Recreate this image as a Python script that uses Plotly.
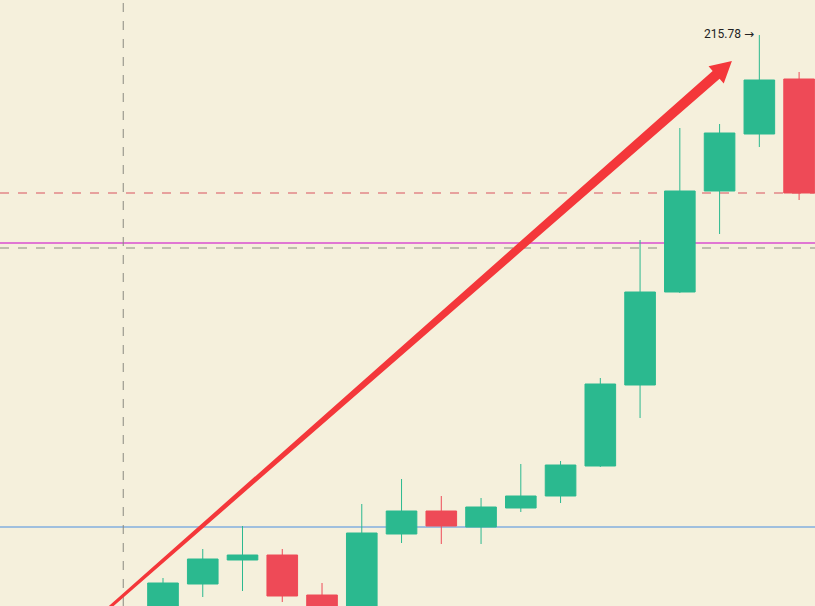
import math
import plotly.graph_objects as go

# ---- data ----
idx = list(range(17))
opens  = [158.08, 160.88, 163.28, 163.78, 159.78, 157.98, 165.88, 168.18, 166.58, 168.48,
          169.68, 172.68, 180.78, 190.08, 200.18, 205.88, 211.38]
highs  = [161.48, 164.38, 166.68, 164.38, 160.98, 168.88, 171.38, 169.68, 169.48, 172.88,
          173.18, 181.48, 195.28, 206.48, 206.88, 215.78, 212.08]
lows   = [157.48, 159.58, 160.18, 159.08, 157.68, 157.68, 164.98, 164.88, 164.88, 168.08,
          168.98, 172.58, 177.48, 189.98, 195.88, 204.58, 199.28]
closes = [160.98, 163.38, 163.78, 159.68, 158.08, 165.98, 168.18, 166.68, 168.58, 169.68,
          172.78, 180.88, 190.08, 200.18, 205.98, 211.28, 199.98]

last_price = 199.98
magenta_level = 194.98
gray_level = 194.48
blue_level = 166.58
cross_x = -1
high_value_text = "215.78"
high_idx = 15
high_val = 215.78

arrow_start = (-1.56, 157.78)
arrow_end = (14.31, 213.18)

x_range = [-4.10, 16.40]
y_range = [158.68, 219.28]

W, H = 815, 606
GREEN = "#2bb98f"
RED = "#ee4a57"
ARROW_RED = "#f4373a"
BG = "#f5f0dc"

# ---- helpers for the tapered drawing arrow (pixel <-> data) ----
sx = W / (x_range[1] - x_range[0])
sy = H / (y_range[1] - y_range[0])


def to_px(x, y):
    return ((x - x_range[0]) * sx, (y_range[1] - y) * sy)


def to_data(px, py):
    return (px / sx + x_range[0], y_range[1] - py / sy)


def tapered_arrow_path(start, end, w_start=3.0, w_base=10.5, head_len=21.0, head_half=11.5):
    x0, y0 = to_px(*start)
    x1, y1 = to_px(*end)
    L = math.hypot(x1 - x0, y1 - y0)
    ux, uy = (x1 - x0) / L, (y1 - y0) / L
    nx, ny = -uy, ux
    bx, by = x1 - ux * head_len, y1 - uy * head_len
    pts = [
        (x0 + nx * w_start / 2, y0 + ny * w_start / 2),
        (bx + nx * w_base / 2, by + ny * w_base / 2),
        (bx + nx * head_half, by + ny * head_half),
        (x1, y1),
        (bx - nx * head_half, by - ny * head_half),
        (bx - nx * w_base / 2, by - ny * w_base / 2),
        (x0 - nx * w_start / 2, y0 - ny * w_start / 2),
    ]
    d = [to_data(px, py) for px, py in pts]
    return "M " + " L ".join(f"{a:.4f},{b:.4f}" for a, b in d) + " Z"


fig = go.Figure()
fig.add_trace(go.Candlestick(
    x=idx, open=opens, high=highs, low=lows, close=closes,
    increasing=dict(line=dict(color=GREEN, width=1), fillcolor=GREEN),
    decreasing=dict(line=dict(color=RED, width=1), fillcolor=RED),
    whiskerwidth=0, showlegend=False, hoverinfo="skip",
))

shapes = [
    dict(type="line", xref="paper", x0=0, x1=1, yref="y", y0=last_price, y1=last_price,
         line=dict(color="#d9535f", width=1, dash="dash"), layer="below"),
    dict(type="line", xref="paper", x0=0, x1=1, yref="y", y0=magenta_level, y1=magenta_level,
         line=dict(color="#d84fd0", width=1.3), layer="below"),
    dict(type="line", xref="paper", x0=0, x1=1, yref="y", y0=gray_level, y1=gray_level,
         line=dict(color="#8a8a80", width=1, dash="dash"), layer="below"),
    dict(type="line", xref="paper", x0=0, x1=1, yref="y", y0=blue_level, y1=blue_level,
         line=dict(color="#4a8ee0", width=1.2), layer="below"),
    dict(type="line", xref="x", x0=cross_x, x1=cross_x, yref="paper", y0=0, y1=1,
         line=dict(color="#8a8a80", width=1, dash="dash"), layer="below"),
    dict(type="path", xref="x", yref="y", path=tapered_arrow_path(arrow_start, arrow_end),
         fillcolor=ARROW_RED, line=dict(width=0), layer="above"),
]

annotations = [
    dict(x=high_idx, y=high_val, xref="x", yref="y",
         text=high_value_text + " <span style=\"font-family:'DejaVu Sans'\">→</span>",
         showarrow=False, xanchor="right", yanchor="middle", xshift=-3, yshift=1,
         font=dict(size=12, color="#222222", family="Roboto, Arial, sans-serif")),
]

fig.update_layout(
    width=W, height=H,
    margin=dict(l=0, r=0, t=0, b=0),
    paper_bgcolor=BG, plot_bgcolor=BG,
    boxgap=0.23, boxgroupgap=0,
    shapes=shapes, annotations=annotations,
    xaxis=dict(range=x_range, visible=False, rangeslider=dict(visible=False), fixedrange=True),
    yaxis=dict(range=y_range, visible=False, fixedrange=True),
)

fig.write_html(
    "out.html",
    config={"displayModeBar": False},
    post_script="document.body.style.margin='0';document.body.style.background='#f5f0dc';",
)
